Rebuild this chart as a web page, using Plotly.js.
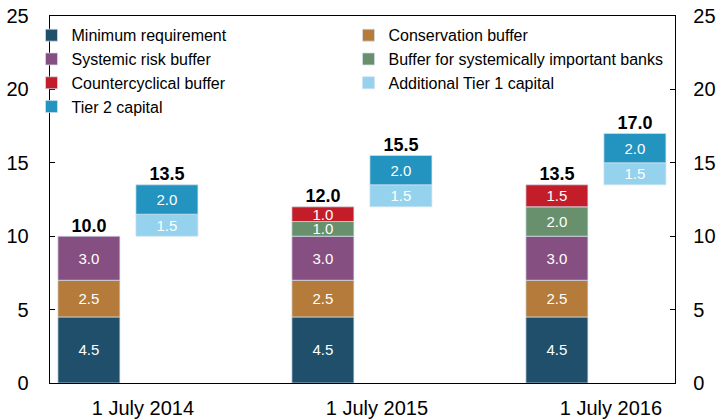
<!DOCTYPE html>
<html>
<head>
<meta charset="utf-8">
<script src="https://cdn.plot.ly/plotly-3.0.1.min.js"></script>
<style>html,body{margin:0;padding:0;background:#fff;}#chart{width:719px;height:420px;}</style>
</head>
<body>
<div id="chart"></div>
<script>
// ---- data ----
const dates = ['1 July 2014', '1 July 2015', '1 July 2016'];
const minimumRequirement = [4.5, 4.5, 4.5];
const conservationBuffer = [2.5, 2.5, 2.5];
const systemicRiskBuffer = [3.0, 3.0, 3.0];
const sibBuffer = [0, 1.0, 2.0];
const countercyclicalBuffer = [0, 1.0, 1.5];
const additionalTier1 = [1.5, 1.5, 1.5];
const tier2Capital = [2.0, 2.0, 2.0];

const seriesNames = ['Minimum requirement', 'Conservation buffer', 'Systemic risk buffer',
  'Buffer for systemically important banks', 'Countercyclical buffer',
  'Additional Tier 1 capital', 'Tier 2 capital'];
const colors = ['#1f4f6b', '#b57b3b', '#864f81', '#68906c', '#c41d2a', '#95d2ee', '#2393c0'];

// ---- layout helpers ----
const leftOff = -0.1667, rightOff = 0.1667, barW = 0.265;
const labelShift = 0.064;

const cetSeries = [minimumRequirement, conservationBuffer, systemicRiskBuffer, sibBuffer, countercyclicalBuffer];
const extraSeries = [additionalTier1, tier2Capital];
const labelFont = {color: '#ffffff', size: 15, family: 'Liberation Sans, Arial, sans-serif'};
const segLine = {color: 'rgba(210,225,235,0.9)', width: 0.8};

const traces = [];
const cetBase = dates.map(() => 0);
cetSeries.forEach((vals, k) => {
  const x = [], y = [], base = [], text = [];
  vals.forEach((v, i) => {
    if (v > 0) { x.push(i + leftOff); y.push(v); base.push(cetBase[i]); text.push(v.toFixed(1)); }
    cetBase[i] += v;
  });
  traces.push({type: 'bar', name: seriesNames[k], x, y, base, text, width: barW,
    marker: {color: colors[k], line: segLine},
    textposition: 'inside', insidetextanchor: 'middle', textfont: labelFont,
    hoverinfo: 'skip'});
});
const totBase = cetBase.slice();
extraSeries.forEach((vals, k) => {
  const x = [], y = [], base = [], text = [];
  vals.forEach((v, i) => {
    if (v > 0) { x.push(i + rightOff); y.push(v); base.push(totBase[i]); text.push(v.toFixed(1)); }
    totBase[i] += v;
  });
  traces.push({type: 'bar', name: seriesNames[5 + k], x, y, base, text, width: barW,
    marker: {color: colors[5 + k], line: segLine},
    textposition: 'inside', insidetextanchor: 'middle', textfont: labelFont,
    hoverinfo: 'skip'});
});

// totals
const totX = [], totY = [], totT = [];
dates.forEach((d, i) => {
  totX.push(i + leftOff); totY.push(cetBase[i]); totT.push('<b>' + cetBase[i].toFixed(1) + '</b>');
  totX.push(i + rightOff); totY.push(totBase[i]); totT.push('<b>' + totBase[i].toFixed(1) + '</b>');
});
traces.push({type: 'scatter', mode: 'text', x: totX, y: totY, text: totT, yaxis: 'y2',
  textposition: 'top center', showlegend: false, hoverinfo: 'skip',
  textfont: {size: 18, color: '#000', family: 'Liberation Sans, Arial, sans-serif'}});

const font = {family: 'Liberation Sans, Arial, sans-serif', color: '#000'};
const layout = {
  width: 719, height: 420,
  margin: {l: 50, r: 44, t: 16, b: 37, autoexpand: false},
  paper_bgcolor: '#fff', plot_bgcolor: '#fff',
  barmode: 'overlay',
  showlegend: true,
  font: font,
  legend: {orientation: 'h', x: -0.0344, xanchor: 'left', y: 1.002, yanchor: 'top',
    entrywidth: 272, entrywidthmode: 'pixels', traceorder: 'normal',
    borderwidth: 3, bordercolor: 'rgba(0,0,0,0)',
    font: {size: 16, family: 'Liberation Sans, Arial, sans-serif', color: '#000'},
    bgcolor: 'rgba(0,0,0,0)', itemclick: false},
  xaxis: {range: [-0.333, 2.338], tickmode: 'array',
    tickvals: dates.map((d, i) => i + labelShift), ticktext: dates,
    showline: true, linecolor: '#000', linewidth: 1.3, mirror: true,
    ticks: '', showgrid: false, zeroline: false, ticklabelstandoff: 7,
    tickfont: {size: 20}},
  yaxis: {range: [0, 25], dtick: 5, showline: true, linecolor: '#000', linewidth: 1.3,
    ticks: 'inside', ticklen: 5, tickcolor: '#000', showgrid: false, zeroline: false,
    ticklabelstandoff: 16, tickfont: {size: 20}},
  yaxis2: {range: [0, 25], dtick: 5, overlaying: 'y', side: 'right', showline: true,
    linecolor: '#000', linewidth: 1.3, ticks: 'inside', ticklen: 5, tickcolor: '#000',
    showgrid: false, zeroline: false, ticklabelstandoff: 13, tickfont: {size: 20}},
  uniformtext: {mode: 'show', minsize: 15}
};

Plotly.newPlot('chart', traces, layout, {displayModeBar: false, staticPlot: true});
</script>
</body>
</html>
